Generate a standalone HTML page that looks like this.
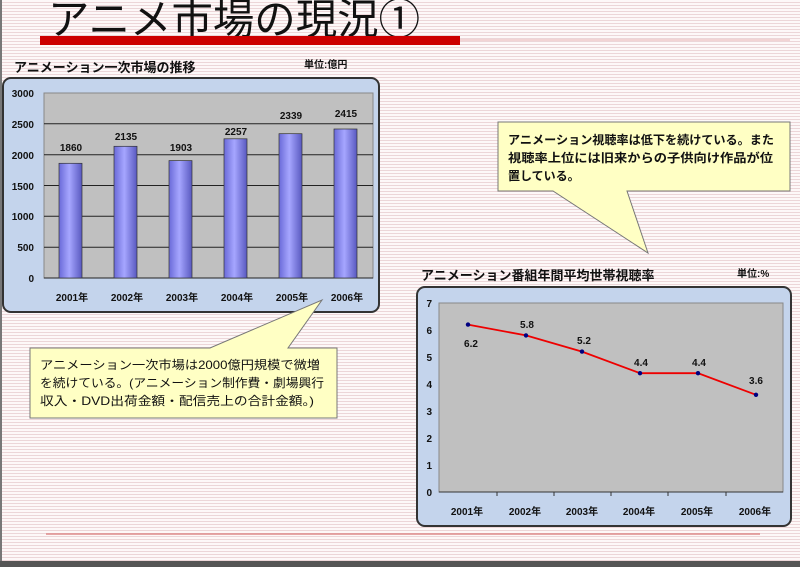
<!DOCTYPE html>
<html><head><meta charset="utf-8"><style>
html,body{margin:0;padding:0;width:800px;height:567px;overflow:hidden;background:#fff}
svg{display:block}
text{font-family:"Liberation Sans","Noto Sans CJK JP",sans-serif}
</style></head><body>
<svg width="800" height="567" viewBox="0 0 800 567" xmlns="http://www.w3.org/2000/svg">
<defs>
<pattern id="lines" width="4" height="3" patternUnits="userSpaceOnUse">
<rect width="4" height="3" fill="#fdf8f8"/><rect y="2" width="4" height="1" fill="#ecd6d8"/>
</pattern>
<linearGradient id="bar" x1="0" x2="1" y1="0" y2="0">
<stop offset="0" stop-color="#6a6ad8"/><stop offset="0.45" stop-color="#a6a6ff"/><stop offset="1" stop-color="#5858c0"/>
</linearGradient>
</defs>
<rect width="800" height="567" fill="url(#lines)"/>
<rect x="0" y="0" width="2" height="567" fill="#777"/>
<rect x="0" y="561" width="800" height="6" fill="#555"/>
<text x="48" y="34" font-size="42" fill="#111" textLength="372" lengthAdjust="spacingAndGlyphs">アニメ市場の現況①</text>
<rect x="40" y="36" width="420" height="9" fill="#cc0000"/>
<line x1="460" y1="40" x2="790" y2="40" stroke="#e8b0b0" stroke-width="1"/>
<line x1="46" y1="534" x2="760" y2="534" stroke="#dd8a8a" stroke-width="1.5"/>

<text x="14" y="72" font-size="13" font-weight="bold" fill="#111">アニメーション一次市場の推移</text>
<text x="304" y="68" font-size="10" font-weight="bold" fill="#111">単位:億円</text>
<rect x="3" y="78" width="376" height="234" rx="8" fill="#c4d4ec" stroke="#333" stroke-width="2"/>
<rect x="44" y="93" width="329" height="185" fill="#c0c0c0" stroke="#888"/>
<g stroke="#222" stroke-width="1">
<line x1="44" y1="123.8" x2="373" y2="123.8"/><line x1="44" y1="154.7" x2="373" y2="154.7"/>
<line x1="44" y1="185.5" x2="373" y2="185.5"/><line x1="44" y1="216.3" x2="373" y2="216.3"/>
<line x1="44" y1="247.2" x2="373" y2="247.2"/><line x1="44" y1="278" x2="373" y2="278"/>
</g>
<g font-size="10" font-weight="bold" fill="#111" text-anchor="end">
<text x="34" y="97">3000</text><text x="34" y="128">2500</text><text x="34" y="159">2000</text>
<text x="34" y="190">1500</text><text x="34" y="220">1000</text><text x="34" y="251">500</text><text x="34" y="282">0</text>
</g>
<g fill="url(#bar)" stroke="#333" stroke-width="0.7">
<rect x="59" y="163.3" width="23" height="114.7"/>
<rect x="114" y="146.3" width="23" height="131.7"/>
<rect x="169" y="160.6" width="23" height="117.4"/>
<rect x="224" y="138.8" width="23" height="139.2"/>
<rect x="279" y="133.7" width="23" height="144.3"/>
<rect x="334" y="129" width="23" height="149"/>
</g>
<g font-size="10" font-weight="bold" fill="#111" text-anchor="middle">
<text x="71" y="151">1860</text><text x="126" y="140">2135</text><text x="181" y="151">1903</text>
<text x="236" y="135">2257</text><text x="291" y="119">2339</text><text x="346" y="117">2415</text>
<text x="72" y="301">2001年</text><text x="127" y="301">2002年</text><text x="182" y="301">2003年</text>
<text x="237" y="301">2004年</text><text x="292" y="301">2005年</text><text x="347" y="301">2006年</text>
</g>

<path d="M30 348 H210 L322 300 L288 348 H337 V418 H30 Z" fill="#ffffc4" stroke="#777" stroke-width="1"/>
<g font-size="12" fill="#111">
<text x="40" y="369" textLength="280" lengthAdjust="spacingAndGlyphs">アニメーション一次市場は2000億円規模で微増</text>
<text x="40" y="387" textLength="284" lengthAdjust="spacingAndGlyphs">を続けている。(アニメーション制作費・劇場興行</text>
<text x="40" y="405" textLength="274" lengthAdjust="spacingAndGlyphs">収入・DVD出荷金額・配信売上の合計金額。)</text>
</g>

<path d="M498 122 H790 V191 H627 L648 253 L553 191 H498 Z" fill="#ffffc4" stroke="#777" stroke-width="1"/>
<g font-size="12" font-weight="bold" fill="#111">
<text x="508" y="144" textLength="266" lengthAdjust="spacingAndGlyphs">アニメーション視聴率は低下を続けている。また</text>
<text x="508" y="162" textLength="265" lengthAdjust="spacingAndGlyphs">視聴率上位には旧来からの子供向け作品が位</text>
<text x="508" y="180">置している。</text>
</g>

<text x="421" y="280" font-size="13" font-weight="bold" fill="#111">アニメーション番組年間平均世帯視聴率</text>
<text x="737" y="277" font-size="10" font-weight="bold" fill="#111">単位:%</text>
<rect x="417" y="287" width="374" height="239" rx="8" fill="#c4d4ec" stroke="#333" stroke-width="2"/>
<rect x="439" y="303" width="344" height="189" fill="#c0c0c0" stroke="#888"/>
<line x1="439" y1="492" x2="783" y2="492" stroke="#333"/>
<g stroke="#333"><line x1="497" y1="492" x2="497" y2="496"/><line x1="554" y1="492" x2="554" y2="496"/><line x1="611" y1="492" x2="611" y2="496"/><line x1="668" y1="492" x2="668" y2="496"/><line x1="726" y1="492" x2="726" y2="496"/></g>
<g font-size="10" font-weight="bold" fill="#111" text-anchor="end">
<text x="432" y="307">7</text><text x="432" y="334">6</text><text x="432" y="361">5</text><text x="432" y="388">4</text>
<text x="432" y="415">3</text><text x="432" y="442">2</text><text x="432" y="469">1</text><text x="432" y="496">0</text>
</g>
<polyline points="468,324.6 526,335.4 582,351.6 640,373.2 698,373.2 756,394.8" fill="none" stroke="#ee0000" stroke-width="1.8"/>
<g fill="#000080">
<circle cx="468" cy="324.6" r="2.2"/><circle cx="526" cy="335.4" r="2.2"/><circle cx="582" cy="351.6" r="2.2"/>
<circle cx="640" cy="373.2" r="2.2"/><circle cx="698" cy="373.2" r="2.2"/><circle cx="756" cy="394.8" r="2.2"/>
</g>
<g font-size="10" font-weight="bold" fill="#111" text-anchor="middle">
<text x="471" y="347">6.2</text><text x="527" y="328">5.8</text><text x="584" y="344">5.2</text>
<text x="641" y="366">4.4</text><text x="699" y="366">4.4</text><text x="756" y="384">3.6</text>
<text x="467" y="515">2001年</text><text x="525" y="515">2002年</text><text x="582" y="515">2003年</text>
<text x="639" y="515">2004年</text><text x="697" y="515">2005年</text><text x="755" y="515">2006年</text>
</g>
</svg>
</body></html>
